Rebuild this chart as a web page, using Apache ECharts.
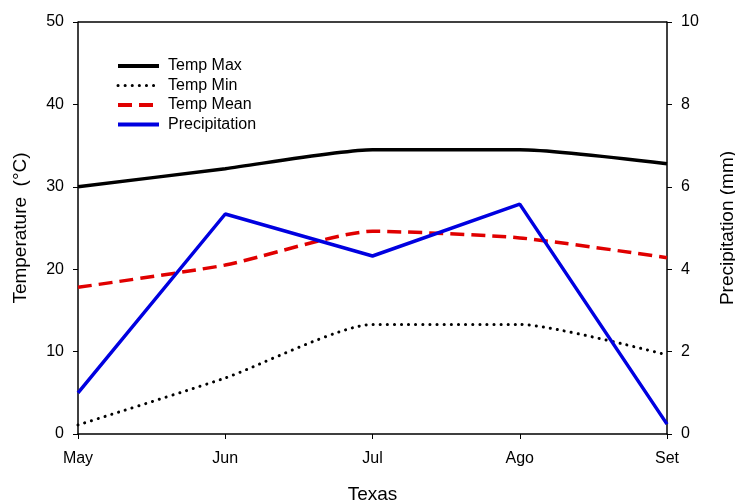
<!DOCTYPE html>
<html>
<head>
<meta charset="utf-8">
<script src="https://cdn.jsdelivr.net/npm/echarts@6/dist/echarts.min.js"></script>
<style>
html, body { margin: 0; padding: 0; background: #fff; }
#main { width: 735px; height: 502px; }
</style>
</head>
<body>
<div id="main"></div>
<script>
// 数据
var months = ['May', 'Jun', 'Jul', 'Ago', 'Set'];
var tempMax = [30.0, 32.2, 34.5, 34.5, 32.8];
var tempMin = [1.1, 6.8, 13.3, 13.3, 9.6];
var tempMean = [17.8, 20.5, 24.6, 23.8, 21.4];
var precipitation = [1.0, 5.34, 4.32, 5.58, 0.24];

var font = 'Arial, "Liberation Sans", sans-serif';

var option = {
	animation: false,
	backgroundColor: '#fff',
	textStyle: { fontFamily: font },
	grid: { left: 78, right: 68, top: 22, bottom: 68, containLabel: false, outerBoundsMode: 'none' },
	legend: {
		orient: 'vertical',
		left: 111,
		top: 53,
		icon: 'inherit',
		itemWidth: 41,
		itemHeight: 14,
		itemGap: 3.5,
		itemStyle: { opacity: 0 },
		lineStyle: { width: 4 },
		textStyle: { fontSize: 16, color: '#000', fontFamily: font, padding: [0, 0, 0, 4] },
		data: ['Temp Max', { name: 'Temp Min', lineStyle: { width: 3 } }, 'Temp Mean', 'Precipitation']
	},
	xAxis: {
		type: 'category',
		data: months,
		boundaryGap: false,
		name: 'Texas',
		nameLocation: 'middle',
		nameGap: 51,
		nameTextStyle: { fontSize: 19, color: '#000' },
		axisLine: { lineStyle: { color: '#000', width: 1.5 } },
		axisTick: { show: true, length: 5, lineStyle: { color: '#000' } },
		axisLabel: { color: '#000', fontSize: 16, margin: 17 }
	},
	yAxis: [{
		type: 'value',
		min: 0,
		max: 50,
		interval: 10,
		name: 'Temperature  (\u00B0C)',
		nameLocation: 'middle',
		nameGap: 48,
		nameTextStyle: { fontSize: 19, color: '#000' },
		axisLine: { show: true, lineStyle: { color: '#000', width: 1.5 } },
		axisTick: { show: true, length: 5, lineStyle: { color: '#000' } },
		axisLabel: { color: '#000', fontSize: 16, margin: 14 },
		splitLine: { show: false }
	}, {
		type: 'value',
		min: 0,
		max: 10,
		interval: 2,
		name: 'Precipitation (mm)',
		nameLocation: 'middle',
		nameGap: 51,
		nameTextStyle: { fontSize: 19, color: '#000' },
		axisLine: { show: true, lineStyle: { color: '#000', width: 1.5 } },
		axisTick: { show: true, length: 5, lineStyle: { color: '#000' } },
		axisLabel: { color: '#000', fontSize: 16, margin: 14 },
		splitLine: { show: false }
	}],
	series: [{
		name: 'Temp Max',
		type: 'line',
		data: tempMax,
		symbol: 'none',
		smooth: 0.2,
		itemStyle: { color: '#000' },
		lineStyle: { color: '#000', width: 3.5 }
	}, {
		name: 'Temp Min',
		type: 'line',
		data: tempMin,
		symbol: 'none',
		smooth: 0.2,
		itemStyle: { color: '#000' },
		lineStyle: { color: '#000', width: 3, type: [0.1, 7], cap: 'round' }
	}, {
		name: 'Temp Mean',
		type: 'line',
		data: tempMean,
		symbol: 'none',
		smooth: 0.2,
		itemStyle: { color: '#e00000' },
		lineStyle: { color: '#e00000', width: 3.5, type: [14, 7] }
	}, {
		name: 'Precipitation',
		type: 'line',
		yAxisIndex: 1,
		data: precipitation,
		symbol: 'none',
		itemStyle: { color: '#0000e0' },
		lineStyle: { color: '#0000e0', width: 3.5 }
	}, {
		// 上边框
		type: 'line',
		data: [],
		markLine: {
			silent: true,
			symbol: 'none',
			label: { show: false },
			lineStyle: { color: '#000', width: 1.5, type: 'solid' },
			data: [{ yAxis: 50 }]
		}
	}]
};

var chart = echarts.init(document.getElementById('main'));
chart.setOption(option);
</script>
</body>
</html>
